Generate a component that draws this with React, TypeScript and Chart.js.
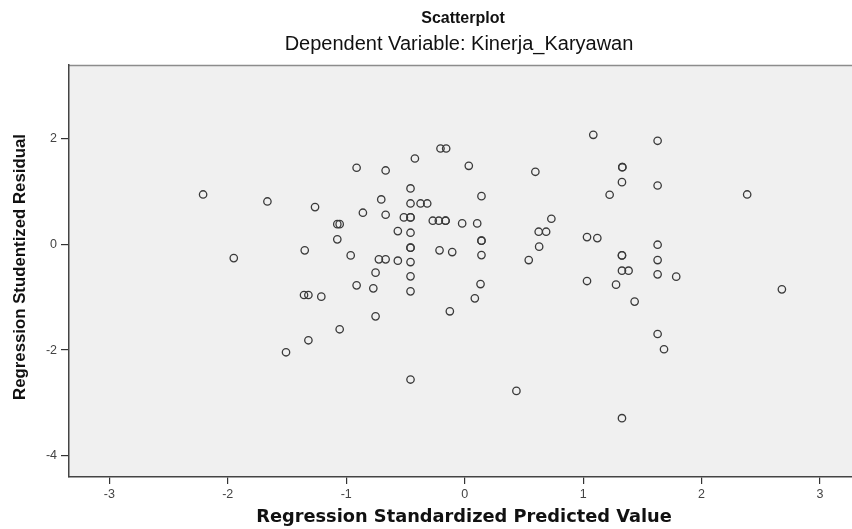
import React, { useEffect, useRef } from "react";
import { Chart, registerables } from "chart.js";

Chart.register(...registerables);

// Regression Standardized Predicted Value
const predicted: number[] = [
  -2.208, -1.949, -1.665, -1.263, -1.35, -1.075, -1.055, -1.075, -0.962, -0.859,
  -0.912, -0.667, -0.42, -0.704, -0.667, -0.457, -0.457, -0.372, -0.316, -0.513,
  -0.457, -0.457, -0.269, -0.218, -0.161, -0.161, -0.021, 0.106, 0.142, -0.204,
  -0.156, 0.035, 0.597, 1.086, -0.564, -0.457, 0.142, 0.142, -0.457, -0.457,
  -0.724, -0.667, -0.564, -0.457, -0.212, -0.105, 0.142, -0.752, -0.457, -0.912,
  -0.771, -0.457, 0.134, 0.086, -1.356, -1.319, -1.21, -0.125, -0.752, -1.055,
  -1.319, -1.508, -0.457, 0.437, 0.732, 0.625, 0.688, 0.629, 0.541, 1.033,
  1.12, 1.224, 1.328, 1.331, 1.331, 1.629, 1.629, 2.385, 1.629, 1.328,
  1.328, 1.629, 1.328, 1.384, 1.629, 1.786, 1.033, 1.278, 1.435, 1.629,
  1.683, 2.678, 1.328,
];

// Regression Studentized Residual
const residual: number[] = [
  0.942, -0.261, 0.81, 0.703, -0.115, 0.381, 0.381, 0.093, -0.21, 0.597,
  1.447, 1.396, 1.622, 0.848, 0.559, 1.056, 0.772, 0.772, 0.772, 0.508,
  0.508, 0.508, 0.446, 0.446, 0.446, 0.446, 0.395, 0.395, 0.91, 1.811,
  1.811, 1.484, 1.371, 2.07, 0.249, 0.219, 0.068, 0.068, -0.064, -0.064,
  -0.285, -0.285, -0.31, -0.336, -0.115, -0.147, -0.204, -0.536, -0.606, -0.776,
  -0.833, -0.89, -0.752, -1.022, -0.959, -0.959, -0.99, -1.267, -1.362, -1.607,
  -1.815, -2.042, -2.557, -2.772, 0.483, 0.238, 0.238, -0.045, -0.298, 0.136,
  0.117, 0.937, 1.175, 1.458, 1.458, 1.957, 1.112, 0.942, -0.008, -0.21,
  -0.21, -0.298, -0.499, -0.499, -0.568, -0.612, -0.695, -0.763, -1.084, -1.696,
  -1.985, -0.852, -3.288,
];

const xTickValues: number[] = [-3, -2, -1, 0, 1, 2, 3];
const yTickValues: number[] = [-4, -2, 0, 2];

const chartTitle = "Scatterplot";
const chartSubtitle = "Dependent Variable: Kinerja_Karyawan";
const xTitle = "Regression Standardized Predicted Value";
const yTitle = "Regression Studentized Residual";

export default function App() {
  const ref = useRef<HTMLCanvasElement | null>(null);

  useEffect(() => {
    if (!ref.current) return;
    const points = predicted.map((x, i) => ({ x, y: residual[i] }));

    const framePlugin = {
      id: "frame",
      beforeDraw(chart: any) {
        const { ctx, chartArea } = chart;
        ctx.save();
        ctx.fillStyle = "#ffffff";
        ctx.fillRect(0, 0, chart.width, chart.height);
        ctx.fillStyle = "#f0f0f0";
        ctx.fillRect(chartArea.left, chartArea.top, chartArea.right - chartArea.left, chartArea.bottom - chartArea.top);
        ctx.strokeStyle = "#8c8c8c";
        ctx.lineWidth = 1.5;
        ctx.beginPath();
        ctx.moveTo(chartArea.left, chartArea.top + 0.5);
        ctx.lineTo(chartArea.right, chartArea.top + 0.5);
        ctx.stroke();
        ctx.restore();
      },
      afterDraw(chart: any) {
        const { ctx } = chart;
        ctx.save();
        ctx.fillStyle = "#111";
        ctx.textAlign = "center";
        ctx.textBaseline = "middle";
        ctx.font = "bold 16px 'Liberation Sans', Arial, sans-serif";
        ctx.fillText(chartTitle, 463, 19);
        ctx.font = "20px 'Liberation Sans', Arial, sans-serif";
        ctx.fillText(chartSubtitle, 459, 44);
        ctx.font = "bold 17.8px 'DejaVu Sans', Verdana, sans-serif";
        ctx.fillText(xTitle, 464, 517);
        ctx.translate(20, 267);
        ctx.rotate(-Math.PI / 2);
        ctx.font = "bold 16.8px 'Liberation Sans', Arial, sans-serif";
        ctx.fillText(yTitle, 0, 0);
        ctx.restore();
      },
    };

    const chart = new Chart(ref.current, {
      type: "scatter",
      data: {
        datasets: [
          {
            data: points,
            pointStyle: "circle",
            pointRadius: 3.7,
            pointHoverRadius: 3.7,
            backgroundColor: "rgba(0,0,0,0)",
            borderColor: "#3a3a3a",
            borderWidth: 1.3,
          },
        ],
      },
      options: {
        responsive: false,
        animation: false,
        events: [],
        layout: { autoPadding: false, padding: { top: 65, left: 0, right: 0, bottom: 0 } },
        plugins: {
          legend: { display: false },
          tooltip: { enabled: false },
          title: { display: false },
        },
        scales: {
          x: {
            type: "linear",
            min: -3.34,
            max: 3.27,
            afterBuildTicks: (scale: any) => {
              scale.ticks = xTickValues.map((v) => ({ value: v }));
            },
            afterFit: (scale: any) => {
              scale.height = 52;
            },
            ticks: {
              color: "#444",
              font: { size: 12.5, family: "'Liberation Sans', Arial, sans-serif" },
              padding: 3,
              maxRotation: 0,
              autoSkip: false,
            },
            grid: {
              drawOnChartArea: false,
              drawTicks: true,
              tickLength: 7,
              color: "#333",
              lineWidth: 1.2,
            },
            border: { display: true, color: "#444", width: 1.5 },
          },
          y: {
            type: "linear",
            min: -4.4,
            max: 3.39,
            afterBuildTicks: (scale: any) => {
              scale.ticks = yTickValues.map((v) => ({ value: v }));
            },
            afterFit: (scale: any) => {
              scale.width = 69;
            },
            ticks: {
              color: "#444",
              font: { size: 12.5, family: "'Liberation Sans', Arial, sans-serif" },
              padding: 4,
              autoSkip: false,
            },
            grid: {
              drawOnChartArea: false,
              drawTicks: true,
              tickLength: 8,
              color: "#333",
              lineWidth: 1.2,
            },
            border: { display: true, color: "#444", width: 1.5 },
          },
        },
      },
      plugins: [framePlugin],
    });

    return () => chart.destroy();
  }, []);

  return (
    <div style={{ position: "absolute", left: 0, top: 0, width: 852, height: 529 }}>
      <canvas ref={ref} width={852} height={529} style={{ width: 852, height: 529, display: "block" }} />
    </div>
  );
}
